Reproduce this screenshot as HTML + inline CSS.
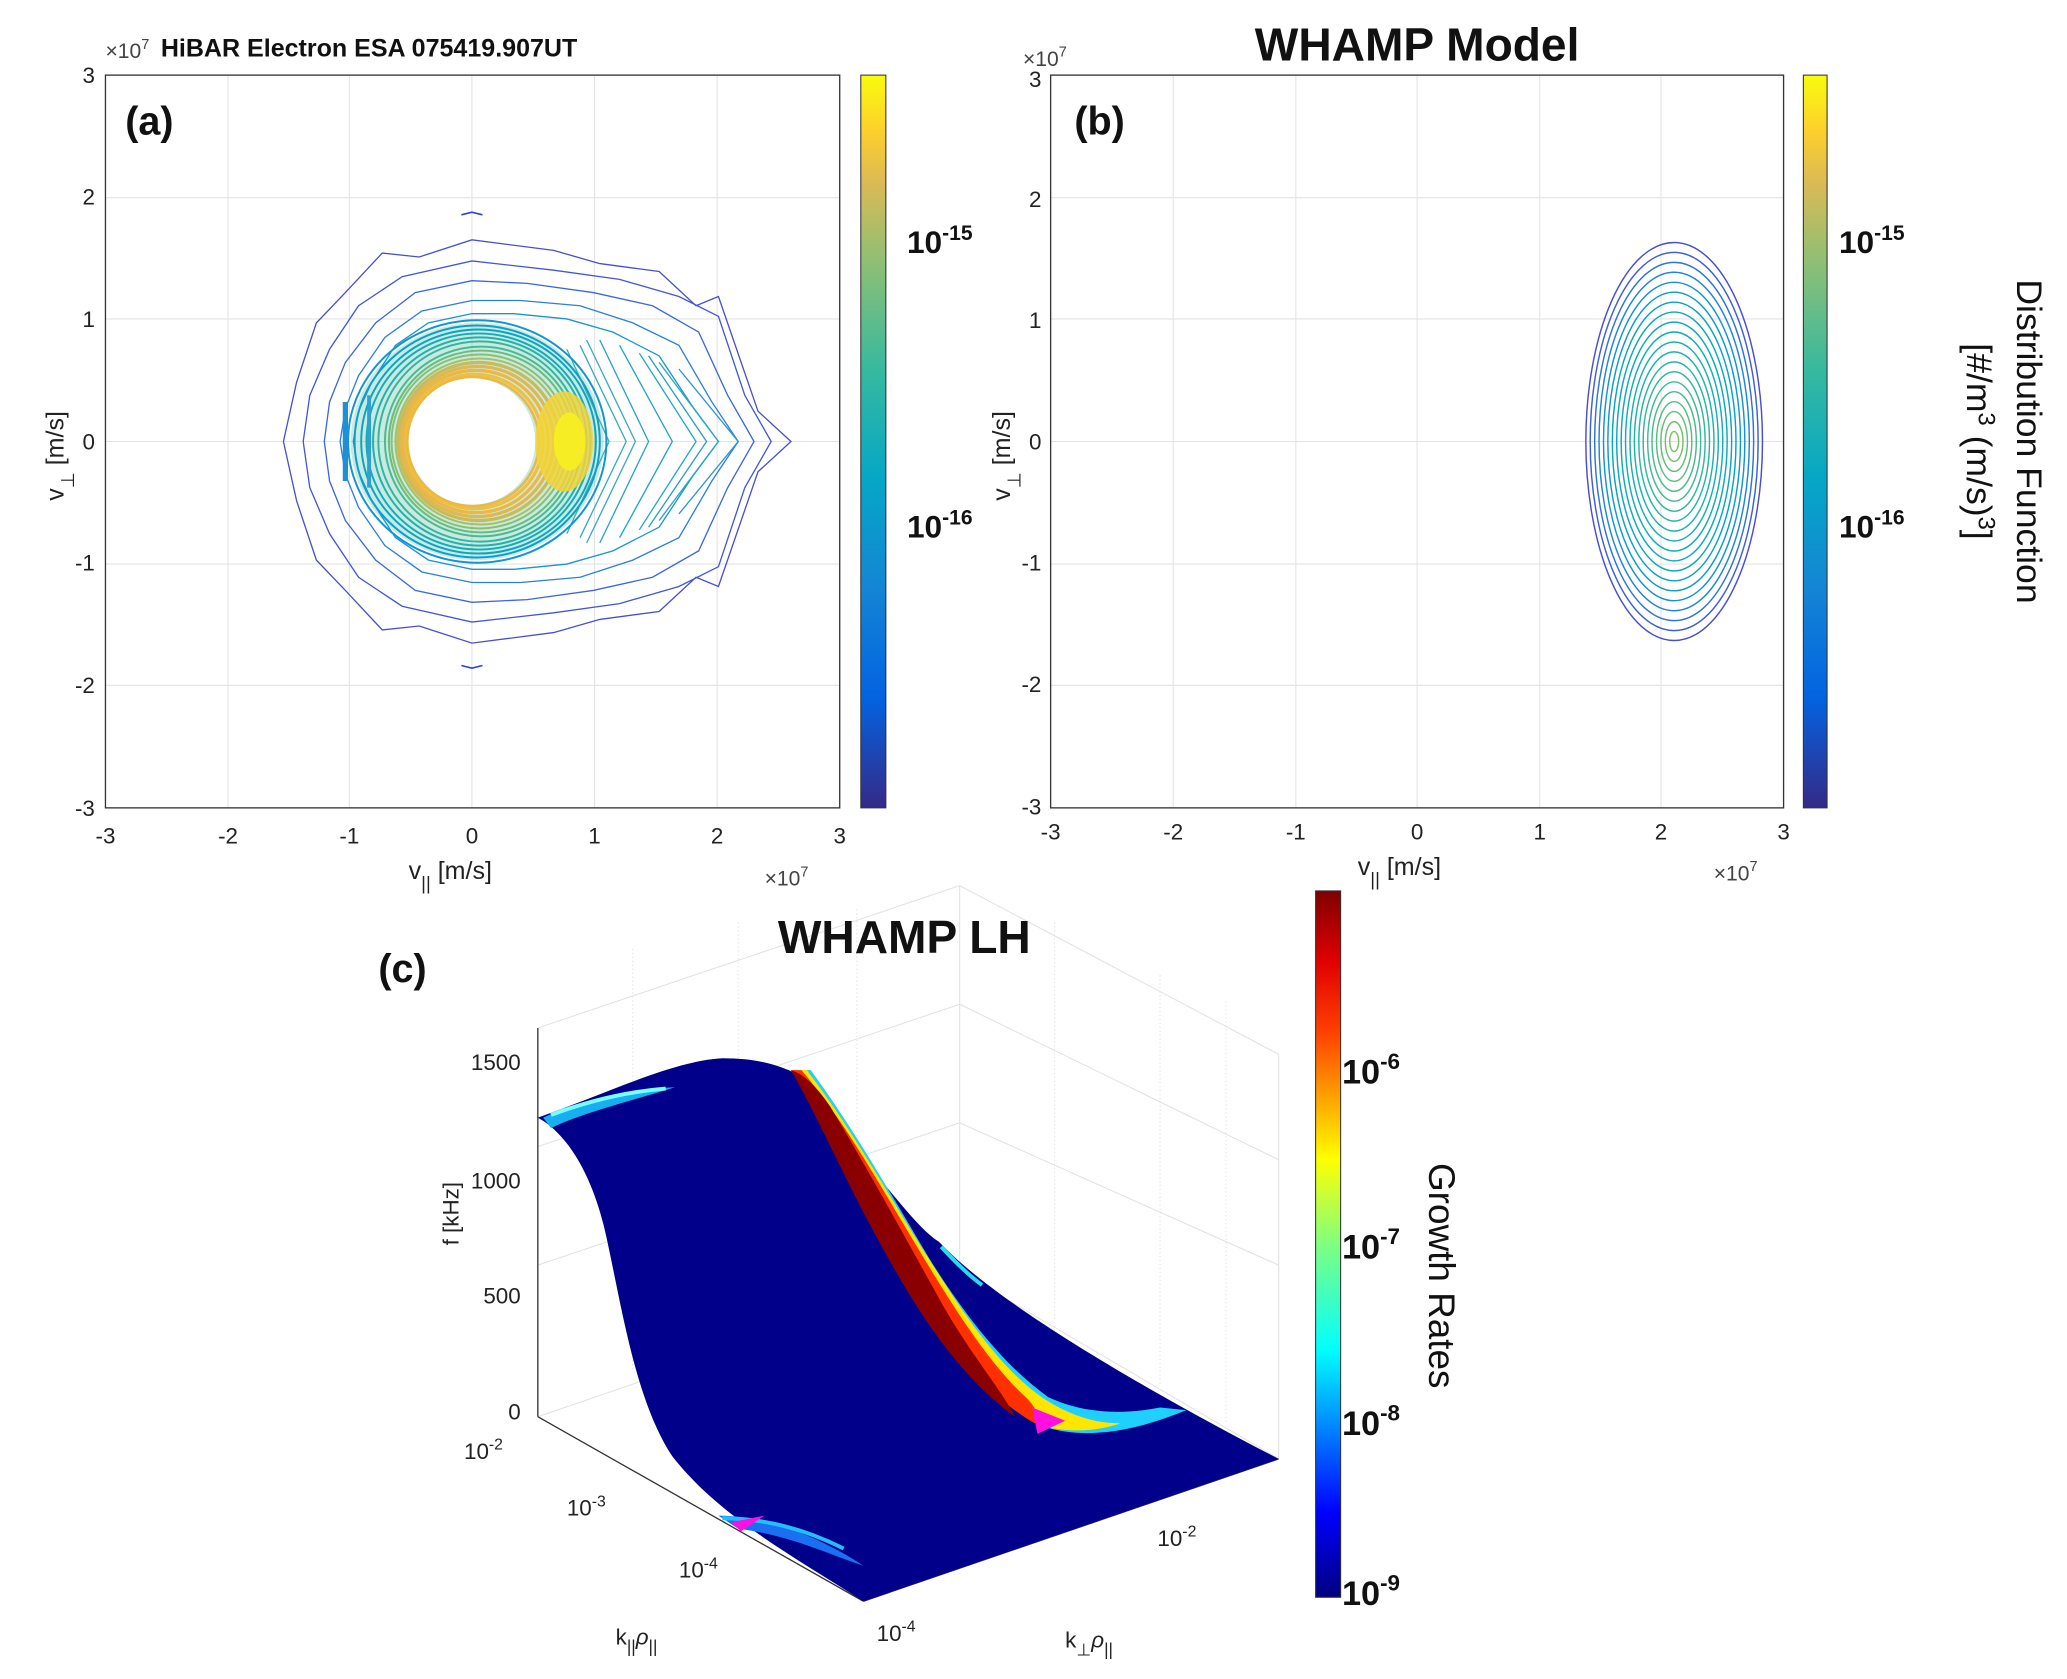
<!DOCTYPE html>
<html><head><meta charset="utf-8"><style>
html,body{margin:0;padding:0;background:#fff;}
svg{display:block;font-family:"Liberation Sans",sans-serif;}
</style></head><body>
<svg width="2067" height="1679" viewBox="0 0 1568 1274" preserveAspectRatio="none" xmlns="http://www.w3.org/2000/svg">
<defs>
<linearGradient id="parula" x1="0" y1="1" x2="0" y2="0">
<stop offset="0" stop-color="#352a87"/><stop offset="0.15" stop-color="#0363e1"/><stop offset="0.3" stop-color="#1485d4"/><stop offset="0.45" stop-color="#06a7c6"/><stop offset="0.6" stop-color="#38b99e"/><stop offset="0.75" stop-color="#92bf73"/><stop offset="0.85" stop-color="#d9ba56"/><stop offset="0.92" stop-color="#fcce2e"/><stop offset="1" stop-color="#f9fb0e"/>
</linearGradient>
<linearGradient id="jet" x1="0" y1="1" x2="0" y2="0">
<stop offset="0" stop-color="#00007f"/><stop offset="0.12" stop-color="#0000ff"/><stop offset="0.35" stop-color="#00ffff"/><stop offset="0.5" stop-color="#7fff7f"/><stop offset="0.62" stop-color="#ffff00"/><stop offset="0.8" stop-color="#ff4000"/><stop offset="0.9" stop-color="#e00000"/><stop offset="1" stop-color="#7f0000"/>
</linearGradient>
</defs>

<g stroke="#e3e3e3" stroke-width="0.8">
<line x1="173" y1="57" x2="173" y2="613"/><line x1="265" y1="57" x2="265" y2="613"/><line x1="358" y1="57" x2="358" y2="613"/><line x1="451" y1="57" x2="451" y2="613"/><line x1="544" y1="57" x2="544" y2="613"/>
<line x1="80" y1="150" x2="637" y2="150"/><line x1="80" y1="242" x2="637" y2="242"/><line x1="80" y1="335" x2="637" y2="335"/><line x1="80" y1="428" x2="637" y2="428"/><line x1="80" y1="520" x2="637" y2="520"/>
<line x1="890" y1="57" x2="890" y2="613"/><line x1="983" y1="57" x2="983" y2="613"/><line x1="1075" y1="57" x2="1075" y2="613"/><line x1="1168" y1="57" x2="1168" y2="613"/><line x1="1260" y1="57" x2="1260" y2="613"/>
<line x1="797" y1="150" x2="1353" y2="150"/><line x1="797" y1="242" x2="1353" y2="242"/><line x1="797" y1="335" x2="1353" y2="335"/><line x1="797" y1="428" x2="1353" y2="428"/><line x1="797" y1="520" x2="1353" y2="520"/>
</g>

<ellipse cx="362" cy="335" rx="96" ry="90" fill="#4cb8a0" opacity="0.3"/>
<g fill="none" stroke-width="1" stroke-linejoin="miter">
<polygon stroke="#4a4ed0" points="600,335 575,312 545,225 528,232 500,206 455,200 420,190 358,182 318,195 290,192 262,222 240,245 225,290 215,335 225,380 240,425 262,448 290,478 318,475 358,488 420,480 455,470 500,464 528,438 545,445 575,358"/>
<polygon stroke="#4456d6" points="585,335 565,300 545,240 515,225 470,212 420,205 358,198 305,210 272,232 250,265 235,300 230,335 235,370 250,405 272,438 305,460 358,472 420,465 470,458 515,445 545,430 565,370"/>
<polygon stroke="#3c66dd" points="572,335 552,300 530,252 495,232 450,222 400,215 358,213 315,222 285,245 262,275 250,305 246,335 250,365 262,395 285,425 315,448 358,457 400,455 450,448 495,438 530,418 552,370"/>
<polygon stroke="#2c7fda" points="560,335 540,305 515,262 480,245 440,232 395,228 358,228 320,236 292,256 272,285 262,310 258,335 262,360 272,385 292,414 320,434 358,442 395,442 440,438 480,425 515,408 540,365"/>
<polygon stroke="#1a94d0" points="545,335 525,308 500,270 465,252 430,242 390,238 358,238 325,245 300,262 282,290 272,312 268,335 272,358 282,380 300,408 325,425 358,432 390,432 430,428 465,418 500,400 525,362"/>
<polyline stroke="#1fa4c8" points="470,262 510,335 470,408"/>
<polyline stroke="#20a8c4" points="485,268 528,335 485,402"/>
<polyline stroke="#2aa8c0" points="500,275 545,335 500,395"/>
<polyline stroke="#2aa0c8" points="455,258 492,335 455,412"/>
<polyline stroke="#2a96d0" points="515,280 560,335 515,390"/>
<polyline stroke="#36acb8" points="440,262 475,335 440,408"/>
<polyline stroke="#40b0b0" points="430,265 462,335 430,405"/>
<polyline stroke="#3aa8c0" points="445,258 482,335 445,412"/>
<polyline stroke="#2a9ccc" points="492,270 536,335 492,400"/>
<g stroke-width="1.5">
<ellipse stroke="#1296d2" cx="362" cy="335" rx="98" ry="92"/>
<ellipse stroke="#0ba0cc" cx="362" cy="335" rx="93" ry="88"/>
<ellipse stroke="#08a6c4" cx="363" cy="335" rx="89" ry="85"/>
<ellipse stroke="#12acba" cx="363" cy="335" rx="85" ry="82"/>
<ellipse stroke="#22b2ac" cx="364" cy="335" rx="81" ry="79"/>
<ellipse stroke="#34b69e" cx="364" cy="335" rx="77" ry="76"/>
<ellipse stroke="#4aba8e" cx="365" cy="335" rx="73" ry="72"/>
<ellipse stroke="#66bd7c" cx="365" cy="335" rx="70" ry="69"/>
<ellipse stroke="#88bf70" cx="364" cy="335" rx="67" ry="66"/>
<ellipse stroke="#a8bf64" cx="364" cy="335" rx="64" ry="63"/>
</g>
<ellipse stroke="#c8bc5a" cx="363" cy="335" rx="61" ry="60" stroke-width="2.5"/>
<ellipse stroke="#deb850" cx="362" cy="335" rx="58" ry="57" stroke-width="2.5"/>
<ellipse stroke="#ecb845" cx="361" cy="335" rx="55" ry="54" stroke-width="2.5"/>
<ellipse stroke="#f0c03c" cx="360" cy="335" rx="52" ry="51" stroke-width="2.5"/>
<ellipse stroke="#e8b848" cx="359" cy="335" rx="50" ry="49" stroke-width="2"/>
<line stroke="#2090d4" x1="262" y1="305" x2="262" y2="365" stroke-width="4"/>
<line stroke="#30a0cc" x1="280" y1="300" x2="280" y2="370" stroke-width="3"/>
</g>
<ellipse cx="428" cy="335" rx="22" ry="38" fill="#f2d438" opacity="0.85"/>
<ellipse cx="432" cy="335" rx="12" ry="22" fill="#f8f020" opacity="0.9"/>
<ellipse cx="358" cy="335" rx="48" ry="48" fill="#fff"/>
<path d="M350,163 L358,161 L366,163 M350,505 L358,507 L366,505" stroke="#3040d0" fill="none" stroke-width="1.2"/>

<g fill="none" stroke-width="1.1">
<ellipse cx="1270" cy="335" rx="67" ry="151" stroke="#4a4ed0"/>
<ellipse cx="1270" cy="335" rx="63.7" ry="143.5" stroke="#3f5ed8"/>
<ellipse cx="1270" cy="335" rx="60.3" ry="135.9" stroke="#2f72da"/>
<ellipse cx="1270" cy="335" rx="57" ry="128.4" stroke="#2284d6"/>
<ellipse cx="1270" cy="335" rx="53.6" ry="120.8" stroke="#1592d2"/>
<ellipse cx="1270" cy="335" rx="50.3" ry="113.3" stroke="#0d9bcb"/>
<ellipse cx="1270" cy="335" rx="46.9" ry="105.7" stroke="#08a2c4"/>
<ellipse cx="1270" cy="335" rx="43.6" ry="98.2" stroke="#0ba6c0"/>
<ellipse cx="1270" cy="335" rx="40.2" ry="90.6" stroke="#0ea9bc"/>
<ellipse cx="1270" cy="335" rx="36.9" ry="83.1" stroke="#13adb5"/>
<ellipse cx="1270" cy="335" rx="33.5" ry="75.5" stroke="#18afb1"/>
<ellipse cx="1270" cy="335" rx="30.2" ry="68" stroke="#1db2ad"/>
<ellipse cx="1270" cy="335" rx="26.8" ry="60.4" stroke="#27b5a5"/>
<ellipse cx="1270" cy="335" rx="23.5" ry="52.9" stroke="#32b79d"/>
<ellipse cx="1270" cy="335" rx="20.1" ry="45.3" stroke="#3eb994"/>
<ellipse cx="1270" cy="335" rx="16.8" ry="37.8" stroke="#4bba8b"/>
<ellipse cx="1270" cy="335" rx="13.4" ry="30.2" stroke="#58bc82"/>
<ellipse cx="1270" cy="335" rx="10.1" ry="22.7" stroke="#66bd79"/>
<ellipse cx="1270" cy="335" rx="6.7" ry="15.1" stroke="#74be71"/>
<ellipse cx="1270" cy="335" rx="3.4" ry="7.6" stroke="#82bf69"/>
</g>

<rect x="80" y="57" width="557" height="556" fill="none" stroke="#333" stroke-width="1"/>
<g font-size="17" fill="#222" text-anchor="middle">
<text x="80" y="640">-3</text><text x="173" y="640">-2</text><text x="265" y="640">-1</text><text x="358" y="640">0</text><text x="451" y="640">1</text><text x="544" y="640">2</text><text x="637" y="640">3</text>
</g>
<g font-size="17" fill="#222" text-anchor="end">
<text x="72" y="63">3</text><text x="72" y="155">2</text><text x="72" y="248">1</text><text x="72" y="341">0</text><text x="72" y="433">-1</text><text x="72" y="526">-2</text><text x="72" y="619">-3</text>
</g>
<text x="80" y="44" font-size="16" fill="#444">×10<tspan dy="-7" font-size="11">7</tspan></text>
<text x="122" y="43" font-size="19" font-weight="bold" fill="#111">HiBAR Electron ESA  075419.907UT</text>
<text x="95" y="102" font-size="30" font-weight="bold" fill="#111">(a)</text>
<text x="310" y="667" font-size="19" fill="#222">v<tspan dy="8" font-size="14">||</tspan><tspan dy="-8"> [m/s]</tspan></text>
<text x="580" y="672" font-size="16" fill="#444">×10<tspan dy="-7" font-size="11">7</tspan></text>
<text transform="translate(48,380) rotate(-90)" font-size="19" fill="#222">v<tspan dy="8" font-size="14">⊥</tspan><tspan dy="-8"> [m/s]</tspan></text>
<rect x="653" y="57" width="19" height="556" fill="url(#parula)" stroke="#333" stroke-width="0.8"/>
<text x="688" y="192" font-size="24" font-weight="bold" fill="#111">10<tspan dy="-10" font-size="16">-15</tspan></text>
<text x="688" y="408" font-size="24" font-weight="bold" fill="#111">10<tspan dy="-10" font-size="16">-16</tspan></text>

<rect x="797" y="57" width="556" height="556" fill="none" stroke="#333" stroke-width="1"/>
<g font-size="17" fill="#222" text-anchor="middle">
<text x="797" y="637">-3</text><text x="890" y="637">-2</text><text x="983" y="637">-1</text><text x="1075" y="637">0</text><text x="1168" y="637">1</text><text x="1260" y="637">2</text><text x="1353" y="637">3</text>
</g>
<g font-size="17" fill="#222" text-anchor="end">
<text x="790" y="66">3</text><text x="790" y="157">2</text><text x="790" y="249">1</text><text x="790" y="341">0</text><text x="790" y="433">-1</text><text x="790" y="525">-2</text><text x="790" y="618">-3</text>
</g>
<text x="776" y="50" font-size="16" fill="#444">×10<tspan dy="-7" font-size="11">7</tspan></text>
<text x="1075" y="46" font-size="35" font-weight="bold" fill="#111" text-anchor="middle">WHAMP Model</text>
<text x="815" y="102" font-size="30" font-weight="bold" fill="#111">(b)</text>
<text x="1030" y="664" font-size="19" fill="#222">v<tspan dy="8" font-size="14">||</tspan><tspan dy="-8"> [m/s]</tspan></text>
<text x="1300" y="668" font-size="16" fill="#444">×10<tspan dy="-7" font-size="11">7</tspan></text>
<text transform="translate(766,380) rotate(-90)" font-size="19" fill="#222">v<tspan dy="8" font-size="14">⊥</tspan><tspan dy="-8"> [m/s]</tspan></text>
<rect x="1368" y="57" width="18" height="556" fill="url(#parula)" stroke="#333" stroke-width="0.8"/>
<text x="1395" y="192" font-size="24" font-weight="bold" fill="#111">10<tspan dy="-10" font-size="16">-15</tspan></text>
<text x="1395" y="408" font-size="24" font-weight="bold" fill="#111">10<tspan dy="-10" font-size="16">-16</tspan></text>
<text transform="translate(1530,335) rotate(90)" font-size="27" fill="#111" text-anchor="middle">Distribution Function</text>
<text transform="translate(1492,335) rotate(90)" font-size="27" fill="#111" text-anchor="middle">[#/m<tspan dy="-9" font-size="18">3</tspan><tspan dy="9"> (m/s)</tspan><tspan dy="-9" font-size="18">3</tspan><tspan dy="9">]</tspan></text>

<g stroke="#e2e2e2" stroke-width="0.8" fill="none">
<line x1="408" y1="780" x2="728" y2="672"/><line x1="728" y1="672" x2="970" y2="800"/><line x1="728" y1="672" x2="728" y2="965"/>
<line x1="408" y1="870" x2="728" y2="762"/><line x1="728" y1="762" x2="970" y2="880"/>
<line x1="408" y1="960" x2="728" y2="852"/><line x1="728" y1="852" x2="970" y2="960"/>
<line x1="408" y1="1075" x2="728" y2="965"/><line x1="728" y1="965" x2="970" y2="1107"/>
<line x1="970" y1="800" x2="970" y2="1107"/>
<line x1="480" y1="720" x2="480" y2="1040" stroke-dasharray="1 2"/><line x1="560" y1="700" x2="560" y2="1010" stroke-dasharray="1 2"/>
<line x1="650" y1="690" x2="650" y2="980" stroke-dasharray="1 2"/><line x1="800" y1="700" x2="800" y2="1010" stroke-dasharray="1 2"/>
<line x1="880" y1="740" x2="880" y2="1050" stroke-dasharray="1 2"/><line x1="930" y1="760" x2="930" y2="1080" stroke-dasharray="1 2"/>
</g>
<line x1="408" y1="780" x2="408" y2="1075" stroke="#333" stroke-width="1"/>
<line x1="408" y1="1075" x2="655" y2="1215" stroke="#333" stroke-width="1"/>
<line x1="655" y1="1215" x2="970" y2="1107" stroke="#333" stroke-width="1"/>
<path d="M408,848 C460,830 510,805 548,803 C575,803 590,808 605,815 L660,885 C680,910 700,935 712,942 L718,948 C760,990 860,1050 970,1107 L655,1215 C600,1180 545,1150 510,1105 C480,1060 470,980 458,930 C448,890 430,860 408,848 Z" fill="#00008a"/>
<path d="M412,848 C440,835 480,826 512,825 C480,835 440,845 418,856 Z" fill="#16b0f0"/>
<path d="M418,846 C450,834 480,828 505,826" stroke="#7ff" stroke-width="3" fill="none"/>
<path d="M600,812 C625,850 650,910 690,975 C715,1020 750,1060 790,1082 C830,1095 870,1082 900,1070 L880,1068 C850,1074 820,1072 795,1060 C760,1035 730,995 705,955 C675,905 650,860 615,812 Z" fill="#1fd0ff"/>
<path d="M600,812 C625,850 650,910 690,975 C715,1020 750,1060 790,1082 C815,1088 835,1085 850,1080 C825,1080 805,1070 790,1060 C755,1035 728,992 700,948 C670,900 645,855 612,812 Z" fill="#ffe500"/>
<path d="M600,812 C625,850 650,910 690,975 C715,1020 750,1060 785,1080 C790,1075 785,1068 780,1062 C750,1035 722,990 695,945 C665,895 640,850 608,812 Z" fill="#ff3000"/>
<path d="M600,812 C622,850 645,905 678,962 C705,1010 735,1050 770,1075 C760,1055 738,1030 715,990 C690,945 660,890 630,840 C620,825 610,815 600,812 Z" fill="#8a0000"/>
<path d="M714,946 C725,958 735,968 745,975" stroke="#2cd8f0" stroke-width="3" fill="none"/>
<polygon points="783,1068 808,1078 787,1088" fill="#ff10e0"/>
<path d="M545,1150 C580,1150 620,1165 655,1188 C630,1180 600,1165 560,1160 Z" fill="#1a70f0"/>
<path d="M548,1152 C580,1152 610,1160 640,1175" stroke="#20c0ff" stroke-width="3" fill="none"/>
<polygon points="555,1155 580,1150 562,1162" fill="#ff10e0"/>
<g font-size="17" fill="#222" text-anchor="end">
<text x="395" y="812">1500</text><text x="395" y="902">1000</text><text x="395" y="989">500</text><text x="395" y="1077">0</text>
</g>
<g font-size="17" fill="#222">
<text x="352" y="1107">10<tspan dy="-7" font-size="12">-2</tspan></text>
<text x="430" y="1150">10<tspan dy="-7" font-size="12">-3</tspan></text>
<text x="515" y="1197">10<tspan dy="-7" font-size="12">-4</tspan></text>
<text x="665" y="1245">10<tspan dy="-7" font-size="12">-4</tspan></text>
<text x="878" y="1173">10<tspan dy="-7" font-size="12">-2</tspan></text>
<text x="467" y="1248">k<tspan dy="6" font-size="13">||</tspan><tspan dy="-6" font-style="italic">ρ</tspan><tspan dy="6" font-size="13">||</tspan></text>
<text x="808" y="1250">k<tspan dy="6" font-size="13">⊥</tspan><tspan dy="-6" font-style="italic">ρ</tspan><tspan dy="6" font-size="13">||</tspan></text>
</g>
<text transform="translate(348,945) rotate(-90)" font-size="17" fill="#222">f [kHz]</text>
<text x="686" y="723" font-size="35" font-weight="bold" fill="#111" text-anchor="middle">WHAMP LH</text>
<text x="287" y="745" font-size="30" font-weight="bold" fill="#111">(c)</text>
<rect x="998" y="676" width="19" height="536" fill="url(#jet)" stroke="#333" stroke-width="0.8"/>
<g font-size="26" font-weight="bold" fill="#111">
<text x="1018" y="822">10<tspan dy="-11" font-size="17">-6</tspan></text>
<text x="1018" y="955">10<tspan dy="-11" font-size="17">-7</tspan></text>
<text x="1018" y="1089">10<tspan dy="-11" font-size="17">-8</tspan></text>
<text x="1018" y="1218">10<tspan dy="-11" font-size="17">-9</tspan></text>
</g>
<text transform="translate(1084,968) rotate(90)" font-size="28" fill="#111" text-anchor="middle">Growth Rates</text>
</svg>
</body></html>
